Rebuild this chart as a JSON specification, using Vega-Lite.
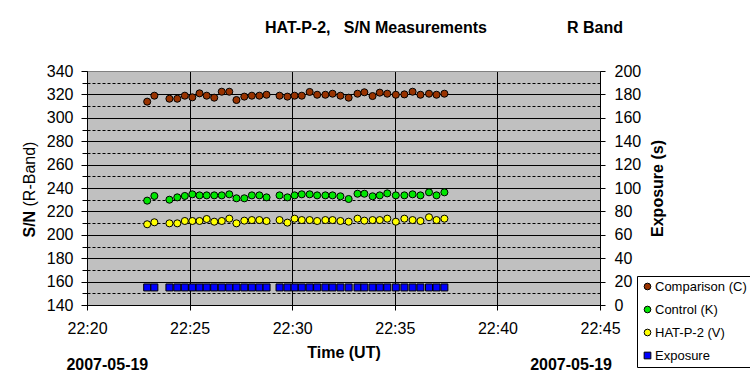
{
  "$schema": "https://vega.github.io/schema/vega-lite/v6.json",
  "width": 513,
  "height": 234,
  "autosize": {"type": "none"},
  "padding": {"left": 87, "top": 71, "right": 150, "bottom": 80},
  "background": "white",
  "title": {
    "text": "HAT-P-2,\u00a0\u00a0\u00a0S/N Measurements\u00a0\u00a0\u00a0\u00a0\u00a0\u00a0\u00a0\u00a0\u00a0\u00a0\u00a0\u00a0\u00a0\u00a0\u00a0\u00a0\u00a0\u00a0R Band",
    "anchor": "start",
    "frame": "group",
    "dx": 178,
    "offset": 14,
    "baseline": "alphabetic",
    "font": "Liberation Sans",
    "fontSize": 16,
    "fontWeight": "bold",
    "color": "black"
  },
  "data": {
    "values": [
      {"t": "2007-05-19T22:22:56", "Comparison (C)": 313.8, "Control (K)": 229.2, "HAT-P-2 (V)": 209.0, "Exposure": 15},
      {"t": "2007-05-19T22:23:17", "Comparison (C)": 318.9, "Control (K)": 233.2, "HAT-P-2 (V)": 210.7, "Exposure": 15},
      {"t": "2007-05-19T22:24:01", "Comparison (C)": 316.3, "Control (K)": 230.0, "HAT-P-2 (V)": 209.8, "Exposure": 15},
      {"t": "2007-05-19T22:24:24", "Comparison (C)": 316.3, "Control (K)": 232.0, "HAT-P-2 (V)": 209.8, "Exposure": 15},
      {"t": "2007-05-19T22:24:46", "Comparison (C)": 318.9, "Control (K)": 233.2, "HAT-P-2 (V)": 211.8, "Exposure": 15},
      {"t": "2007-05-19T22:25:08", "Comparison (C)": 317.5, "Control (K)": 234.6, "HAT-P-2 (V)": 211.8, "Exposure": 15},
      {"t": "2007-05-19T22:25:29", "Comparison (C)": 320.9, "Control (K)": 233.7, "HAT-P-2 (V)": 211.8, "Exposure": 15},
      {"t": "2007-05-19T22:25:50", "Comparison (C)": 318.9, "Control (K)": 233.7, "HAT-P-2 (V)": 213.5, "Exposure": 15},
      {"t": "2007-05-19T22:26:12", "Comparison (C)": 317.2, "Control (K)": 233.7, "HAT-P-2 (V)": 211.2, "Exposure": 15},
      {"t": "2007-05-19T22:26:34", "Comparison (C)": 322.3, "Control (K)": 233.7, "HAT-P-2 (V)": 211.8, "Exposure": 15},
      {"t": "2007-05-19T22:26:56", "Comparison (C)": 322.3, "Control (K)": 234.6, "HAT-P-2 (V)": 213.8, "Exposure": 15},
      {"t": "2007-05-19T22:27:17", "Comparison (C)": 315.2, "Control (K)": 231.2, "HAT-P-2 (V)": 209.8, "Exposure": 15},
      {"t": "2007-05-19T22:27:40", "Comparison (C)": 318.1, "Control (K)": 231.2, "HAT-P-2 (V)": 212.1, "Exposure": 15},
      {"t": "2007-05-19T22:28:02", "Comparison (C)": 318.9, "Control (K)": 233.7, "HAT-P-2 (V)": 212.6, "Exposure": 15},
      {"t": "2007-05-19T22:28:24", "Comparison (C)": 318.9, "Control (K)": 233.7, "HAT-P-2 (V)": 212.6, "Exposure": 15},
      {"t": "2007-05-19T22:28:45", "Comparison (C)": 319.7, "Control (K)": 232.0, "HAT-P-2 (V)": 211.8, "Exposure": 15},
      {"t": "2007-05-19T22:29:23", "Comparison (C)": 318.9, "Control (K)": 233.7, "HAT-P-2 (V)": 212.6, "Exposure": 15},
      {"t": "2007-05-19T22:29:46", "Comparison (C)": 318.1, "Control (K)": 232.0, "HAT-P-2 (V)": 210.4, "Exposure": 15},
      {"t": "2007-05-19T22:30:07", "Comparison (C)": 318.9, "Control (K)": 233.7, "HAT-P-2 (V)": 213.8, "Exposure": 15},
      {"t": "2007-05-19T22:30:28", "Comparison (C)": 318.9, "Control (K)": 234.6, "HAT-P-2 (V)": 212.6, "Exposure": 15},
      {"t": "2007-05-19T22:30:51", "Comparison (C)": 322.1, "Control (K)": 234.6, "HAT-P-2 (V)": 212.6, "Exposure": 15},
      {"t": "2007-05-19T22:31:13", "Comparison (C)": 319.7, "Control (K)": 233.7, "HAT-P-2 (V)": 211.8, "Exposure": 15},
      {"t": "2007-05-19T22:31:37", "Comparison (C)": 319.7, "Control (K)": 233.7, "HAT-P-2 (V)": 212.6, "Exposure": 15},
      {"t": "2007-05-19T22:31:58", "Comparison (C)": 320.6, "Control (K)": 233.7, "HAT-P-2 (V)": 212.6, "Exposure": 15},
      {"t": "2007-05-19T22:32:21", "Comparison (C)": 318.9, "Control (K)": 232.9, "HAT-P-2 (V)": 211.8, "Exposure": 15},
      {"t": "2007-05-19T22:32:45", "Comparison (C)": 317.2, "Control (K)": 230.6, "HAT-P-2 (V)": 211.2, "Exposure": 15},
      {"t": "2007-05-19T22:33:11", "Comparison (C)": 320.6, "Control (K)": 235.1, "HAT-P-2 (V)": 213.8, "Exposure": 15},
      {"t": "2007-05-19T22:33:31", "Comparison (C)": 321.8, "Control (K)": 235.1, "HAT-P-2 (V)": 212.1, "Exposure": 15},
      {"t": "2007-05-19T22:33:55", "Comparison (C)": 318.6, "Control (K)": 232.9, "HAT-P-2 (V)": 212.6, "Exposure": 15},
      {"t": "2007-05-19T22:34:16", "Comparison (C)": 321.5, "Control (K)": 233.7, "HAT-P-2 (V)": 212.6, "Exposure": 15},
      {"t": "2007-05-19T22:34:38", "Comparison (C)": 320.6, "Control (K)": 235.4, "HAT-P-2 (V)": 213.8, "Exposure": 15},
      {"t": "2007-05-19T22:35:03", "Comparison (C)": 319.7, "Control (K)": 233.7, "HAT-P-2 (V)": 211.2, "Exposure": 15},
      {"t": "2007-05-19T22:35:28", "Comparison (C)": 320.0, "Control (K)": 233.7, "HAT-P-2 (V)": 213.8, "Exposure": 15},
      {"t": "2007-05-19T22:35:52", "Comparison (C)": 322.3, "Control (K)": 234.6, "HAT-P-2 (V)": 212.6, "Exposure": 15},
      {"t": "2007-05-19T22:36:15", "Comparison (C)": 319.7, "Control (K)": 233.7, "HAT-P-2 (V)": 211.8, "Exposure": 15},
      {"t": "2007-05-19T22:36:40", "Comparison (C)": 320.6, "Control (K)": 236.3, "HAT-P-2 (V)": 215.0, "Exposure": 15},
      {"t": "2007-05-19T22:37:02", "Comparison (C)": 319.7, "Control (K)": 233.7, "HAT-P-2 (V)": 212.6, "Exposure": 15},
      {"t": "2007-05-19T22:37:25", "Comparison (C)": 320.6, "Control (K)": 236.3, "HAT-P-2 (V)": 213.8, "Exposure": 15}
    ]
  },
  "resolve": {"scale": {"x": "independent", "y": "independent"}},
  "layer": [
    {
      "transform": [{"fold": ["Comparison (C)", "Control (K)", "HAT-P-2 (V)"], "as": ["series", "sn"]}],
      "mark": {"type": "point", "opacity": 0},
      "encoding": {
        "x": {
          "field": "t", "type": "temporal",
          "scale": {"domain": [{"year": 2007, "month": 5, "date": 19, "hours": 22, "minutes": 20}, {"year": 2007, "month": 5, "date": 19, "hours": 22, "minutes": 45}], "nice": false},
          "axis": {
            "orient": "bottom",
            "values": [{"year": 2007, "month": 5, "date": 19, "hours": 22, "minutes": 20, "seconds": 58}, {"year": 2007, "month": 5, "date": 19, "hours": 22, "minutes": 43, "seconds": 34}],
            "labelExpr": "timeFormat(datum.value, '%Y-%m-%d')",
            "labelFontWeight": "bold", "labelFontSize": 16, "labelAlign": "center", "labelBaseline": "alphabetic",
            "labelFlush": false, "labelOverlap": false,
            "ticks": false, "tickSize": 0, "labelPadding": 64, "domain": false, "grid": false, "title": null
          }
        },
        "y": {
          "field": "sn", "type": "quantitative",
          "scale": {"domain": [140, 340], "nice": false, "zero": false},
          "axis": {
            "orient": "left",
            "values": [150, 170, 190, 210, 230, 250, 270, 290, 310, 330],
            "labels": false, "tickSize": 5, "domain": false,
            "grid": true, "gridDash": [3, 2], "gridColor": "black",
            "title": "(R-Band)", "titleFontWeight": "normal", "titleFontSize": 16,
            "titleAngle": 270, "titleAlign": "left", "titleBaseline": "middle", "titleX": -58, "titleY": 135
          }
        }
      }
    },
    {
      "transform": [{"fold": ["Comparison (C)", "Control (K)", "HAT-P-2 (V)"], "as": ["series", "sn"]}],
      "mark": {"type": "point", "filled": true, "stroke": "black", "strokeWidth": 1, "size": 50, "opacity": 1},
      "encoding": {
        "x": {
          "field": "t", "type": "temporal",
          "scale": {"domain": [{"year": 2007, "month": 5, "date": 19, "hours": 22, "minutes": 20}, {"year": 2007, "month": 5, "date": 19, "hours": 22, "minutes": 45}], "nice": false},
          "axis": {
            "orient": "bottom",
            "values": [
              {"year": 2007, "month": 5, "date": 19, "hours": 22, "minutes": 20},
              {"year": 2007, "month": 5, "date": 19, "hours": 22, "minutes": 25},
              {"year": 2007, "month": 5, "date": 19, "hours": 22, "minutes": 30},
              {"year": 2007, "month": 5, "date": 19, "hours": 22, "minutes": 35},
              {"year": 2007, "month": 5, "date": 19, "hours": 22, "minutes": 40},
              {"year": 2007, "month": 5, "date": 19, "hours": 22, "minutes": 45}
            ],
            "format": "%H:%M", "labelFlush": false, "labelOverlap": false,
            "tickSize": 5, "labelPadding": 10, "grid": true, "gridColor": "black", "domain": true,
            "title": "Time (UT)", "titleFontSize": 16, "titleFontWeight": "bold", "titlePadding": 8
          }
        },
        "y": {
          "field": "sn", "type": "quantitative",
          "scale": {"domain": [140, 340], "nice": false, "zero": false},
          "axis": {
            "orient": "left",
            "values": [140, 160, 180, 200, 220, 240, 260, 280, 300, 320, 340],
            "tickSize": 6, "labelPadding": 8, "grid": true,
            "gridColor": {"condition": {"test": "datum.value === 340", "value": "#808080"}, "value": "black"},
            "title": "S/N", "titleFontWeight": "bold", "titleFontSize": 16,
            "titleAngle": 270, "titleAlign": "left", "titleBaseline": "middle", "titleX": -58, "titleY": 166
          }
        },
        "color": {
          "field": "series", "type": "nominal",
          "scale": {"domain": ["Comparison (C)", "Control (K)", "HAT-P-2 (V)", "Exposure"], "range": ["#993300", "#00E600", "#FFFF00", "#0000FF"]},
          "legend": {
            "orient": "none", "legendX": 550, "legendY": 205, "title": null,
            "fillColor": "white", "strokeColor": "black", "padding": 4, "cornerRadius": 0,
            "labelFont": "Liberation Sans", "labelFontSize": 13, "labelColor": "black", "labelLimit": 200,
            "symbolSize": 45, "symbolStrokeColor": "black", "symbolStrokeWidth": 1,
            "rowPadding": 9, "labelOffset": 1
          }
        },
        "shape": {
          "field": "series", "type": "nominal",
          "scale": {"domain": ["Comparison (C)", "Control (K)", "HAT-P-2 (V)", "Exposure"], "range": ["circle", "circle", "circle", "square"]},
          "legend": {
            "orient": "none", "legendX": 550, "legendY": 205, "title": null,
            "fillColor": "white", "strokeColor": "black", "padding": 4, "cornerRadius": 0,
            "labelFont": "Liberation Sans", "labelFontSize": 13, "labelColor": "black", "labelLimit": 200,
            "symbolSize": 45, "symbolStrokeColor": "black", "symbolStrokeWidth": 1,
            "rowPadding": 9, "labelOffset": 1
          }
        }
      }
    },
    {
      "transform": [{"fold": ["Exposure"], "as": ["series", "ex"]}],
      "mark": {"type": "point", "filled": true, "stroke": "black", "strokeWidth": 1, "size": 49, "opacity": 1},
      "encoding": {
        "x": {
          "field": "t", "type": "temporal",
          "scale": {"domain": [{"year": 2007, "month": 5, "date": 19, "hours": 22, "minutes": 20}, {"year": 2007, "month": 5, "date": 19, "hours": 22, "minutes": 45}], "nice": false},
          "axis": null
        },
        "y": {
          "field": "ex", "type": "quantitative",
          "scale": {"domain": [0, 200], "nice": false, "zero": false},
          "axis": {
            "orient": "right",
            "values": [0, 20, 40, 60, 80, 100, 120, 140, 160, 180, 200],
            "tickSize": 5, "labelPadding": 9, "grid": false,
            "title": "Exposure (s)", "titleFontWeight": "bold", "titleFontSize": 16,
            "titleAngle": 270, "titleAlign": "center", "titleBaseline": "middle", "titleX": 57, "titleY": 117
          }
        },
        "color": {"field": "series", "type": "nominal"},
        "shape": {"field": "series", "type": "nominal"}
      }
    }
  ],
  "config": {
    "font": "Liberation Sans",
    "view": {"fill": "#C0C0C0", "stroke": "#808080", "strokeWidth": 1},
    "axis": {
      "labelFont": "Liberation Sans", "labelFontSize": 16, "labelColor": "black",
      "titleFont": "Liberation Sans", "titleColor": "black",
      "domainColor": "black", "domainWidth": 1, "tickColor": "black", "tickWidth": 1,
      "gridColor": "black", "gridOpacity": 1, "gridWidth": 1
    }
  }
}
